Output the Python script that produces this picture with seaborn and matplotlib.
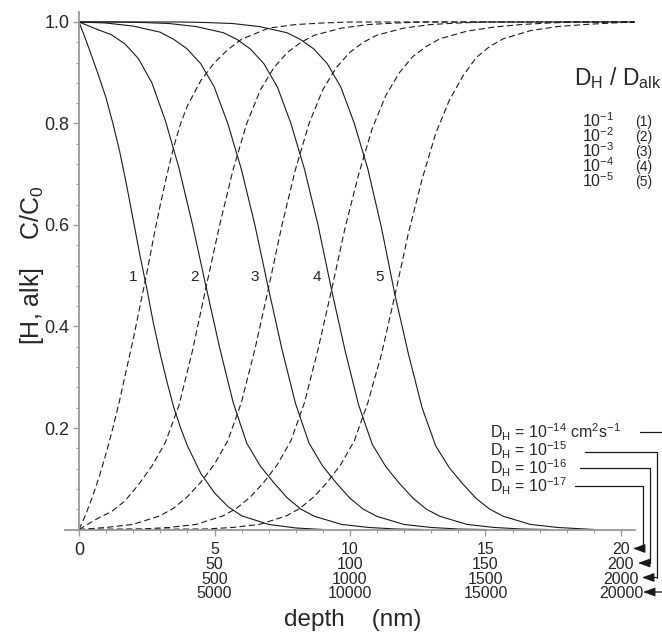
import pandas as pd
import seaborn as sns
import matplotlib.pyplot as plt
from matplotlib.lines import Line2D
from matplotlib.ticker import MultipleLocator

# concentration profiles: solid = H, dashed = alkali
h1_x = [0, 0.25, 0.5, 0.75, 1.0, 1.25, 1.5, 1.75, 2.0, 2.25, 2.5, 2.75, 3.0, 3.25, 3.5, 3.75, 4.0, 4.5, 5.0, 5.5, 6.0, 7.0, 8.0, 9.0]
h1_y = [1.0, 0.965, 0.928, 0.89, 0.85, 0.80, 0.745, 0.68, 0.61, 0.54, 0.475, 0.405, 0.345, 0.29, 0.24, 0.20, 0.165, 0.11, 0.072, 0.045, 0.027, 0.01, 0.003, 0.0]
alk1_x = [0, 0.25, 0.5, 0.75, 1.0, 1.25, 1.5, 1.75, 2.0, 2.25, 2.5, 2.75, 3.0, 3.25, 3.5, 3.75, 4.0, 4.5, 5.0, 5.5, 6.0, 7.0, 8.0, 9.0, 10.0, 20.5]
alk1_y = [0.0, 0.03, 0.065, 0.105, 0.15, 0.20, 0.255, 0.315, 0.375, 0.44, 0.505, 0.575, 0.64, 0.70, 0.755, 0.80, 0.835, 0.885, 0.92, 0.946, 0.966, 0.988, 0.995, 0.998, 1.0, 1.0]

h2_x = [0, 0.69, 1.19, 1.69, 2.19, 2.69, 3.19, 3.69, 4.19, 4.69, 5.19, 5.69, 6.19, 6.69, 7.19, 7.69, 8.19, 8.69, 9.69, 10.69, 11.69, 12.69]
h2_y = [1.0, 0.985, 0.975, 0.957, 0.928, 0.88, 0.805, 0.712, 0.60, 0.478, 0.358, 0.25, 0.17, 0.125, 0.092, 0.062, 0.04, 0.026, 0.01, 0.004, 0.001, 0.0]
alk2_x = [0, 0.69, 1.19, 1.69, 2.19, 2.69, 3.19, 3.69, 4.19, 4.69, 5.19, 5.69, 6.19, 6.69, 7.19, 7.69, 8.19, 8.69, 9.69, 10.69, 11.69, 12.69, 20.5]
alk2_y = [0.0, 0.022, 0.035, 0.056, 0.088, 0.125, 0.172, 0.245, 0.353, 0.478, 0.60, 0.71, 0.80, 0.866, 0.91, 0.94, 0.96, 0.974, 0.988, 0.995, 0.998, 1.0, 1.0]

h3_x = [0, 0.99, 1.99, 2.99, 3.49, 3.99, 4.49, 4.99, 5.49, 5.99, 6.49, 6.99, 7.49, 7.99, 8.49, 8.99, 9.49, 9.99, 10.49, 10.99, 11.99, 12.99, 13.99, 14.99]
h3_y = [1.0, 0.998, 0.992, 0.98, 0.966, 0.947, 0.918, 0.872, 0.80, 0.71, 0.60, 0.475, 0.355, 0.248, 0.17, 0.125, 0.092, 0.062, 0.04, 0.026, 0.01, 0.004, 0.001, 0.0]
alk3_x = [0, 0.99, 1.99, 2.99, 3.49, 3.99, 4.49, 4.99, 5.49, 5.99, 6.49, 6.99, 7.49, 7.99, 8.49, 8.99, 9.49, 9.99, 10.49, 10.99, 11.99, 12.99, 13.99, 14.99, 20.5]
alk3_y = [0.0, 0.004, 0.01, 0.027, 0.042, 0.064, 0.093, 0.128, 0.175, 0.25, 0.355, 0.475, 0.60, 0.71, 0.80, 0.866, 0.91, 0.94, 0.96, 0.974, 0.988, 0.995, 0.998, 1.0, 1.0]

h4_x = [0, 1.32, 2.32, 3.32, 4.32, 5.32, 5.82, 6.32, 6.82, 7.32, 7.82, 8.32, 8.82, 9.32, 9.82, 10.32, 10.82, 11.32, 11.82, 12.32, 12.82, 13.32, 14.32, 15.32, 16.32, 17.32]
h4_y = [1.0, 1.0, 0.999, 0.997, 0.991, 0.979, 0.966, 0.947, 0.918, 0.872, 0.80, 0.71, 0.60, 0.472, 0.352, 0.245, 0.168, 0.124, 0.091, 0.062, 0.04, 0.026, 0.01, 0.004, 0.001, 0.0]
alk4_x = [0, 2.32, 3.32, 4.32, 5.32, 5.82, 6.32, 6.82, 7.32, 7.82, 8.32, 8.82, 9.32, 9.82, 10.32, 10.82, 11.32, 11.82, 12.32, 12.82, 13.32, 14.32, 15.32, 16.32, 17.32, 18.32, 20.5]
alk4_y = [0.0, 0.001, 0.004, 0.01, 0.027, 0.042, 0.064, 0.093, 0.128, 0.175, 0.25, 0.355, 0.472, 0.595, 0.70, 0.79, 0.855, 0.90, 0.932, 0.952, 0.967, 0.982, 0.99, 0.995, 0.998, 1.0, 1.0]

h5_x = [0, 3.66, 4.66, 5.66, 6.66, 7.66, 8.16, 8.66, 9.16, 9.66, 10.16, 10.66, 11.16, 11.66, 12.16, 12.66, 13.16, 13.66, 14.16, 14.66, 15.16, 15.66, 16.66, 17.66, 18.66, 19.0]
h5_y = [1.0, 1.0, 0.999, 0.997, 0.991, 0.979, 0.966, 0.947, 0.918, 0.872, 0.80, 0.71, 0.595, 0.462, 0.345, 0.24, 0.165, 0.122, 0.09, 0.061, 0.04, 0.026, 0.01, 0.004, 0.001, 0.0]
alk5_x = [0, 4.66, 5.66, 6.66, 7.66, 8.16, 8.66, 9.16, 9.66, 10.16, 10.66, 11.16, 11.66, 12.16, 12.66, 13.16, 13.66, 14.16, 14.66, 15.16, 15.66, 16.66, 17.66, 18.66, 19.66, 20.5]
alk5_y = [0.0, 0.001, 0.004, 0.01, 0.027, 0.042, 0.064, 0.093, 0.128, 0.175, 0.25, 0.345, 0.462, 0.585, 0.69, 0.78, 0.845, 0.893, 0.93, 0.952, 0.967, 0.983, 0.991, 0.995, 0.998, 1.0]

ratio_labels = ['10$^{-1}$', '10$^{-2}$', '10$^{-3}$', '10$^{-4}$', '10$^{-5}$']
curve_ids = ['1', '2', '3', '4', '5']
curve_label_x = [2.0, 4.28, 6.49, 8.79, 11.11]
dh_labels = ['10$^{-14}$ cm$^{2}$s$^{-1}$', '10$^{-15}$', '10$^{-16}$', '10$^{-17}$']
x_ticks = [0, 5, 10, 15, 20]
x_ticklabels = ['0', '5\n50\n500\n5000', '10\n100\n1000\n10000',
                '15\n150\n1500\n15000', '20\n200\n2000\n20000']
y_ticks = [0.2, 0.4, 0.6, 0.8, 1.0]

rows = []
profiles = [(h1_x, h1_y, alk1_x, alk1_y), (h2_x, h2_y, alk2_x, alk2_y),
            (h3_x, h3_y, alk3_x, alk3_y), (h4_x, h4_y, alk4_x, alk4_y),
            (h5_x, h5_y, alk5_x, alk5_y)]
for i, (hx, hy, ax_, ay) in enumerate(profiles):
    for x, y in zip(hx, hy):
        rows.append({'depth': x, 'conc': y, 'kind': 'H', 'curve': f'H{i}'})
    for x, y in zip(ax_, ay):
        rows.append({'depth': x, 'conc': y, 'kind': 'alk', 'curve': f'A{i}'})
df = pd.DataFrame(rows)

sns.set_theme(style='ticks')
plt.rcParams['font.family'] = ['Liberation Sans', 'DejaVu Sans']
plt.rcParams['mathtext.fontset'] = 'custom'
plt.rcParams['mathtext.rm'] = 'Liberation Sans'
plt.rcParams['mathtext.it'] = 'Liberation Sans:italic'
plt.rcParams['mathtext.bf'] = 'Liberation Sans:bold'

W, H = 662, 633
fig = plt.figure(figsize=(W / 100, H / 100), dpi=100)
ax = fig.add_axes([0.0989, 0.1635, 0.8596, 0.8178])

sns.lineplot(data=df, x='depth', y='conc', units='curve', style='kind',
             estimator=None, dashes={'H': '', 'alk': (5.5, 3)}, color='#1a1a1a',
             linewidth=0.8, legend=False, ax=ax)

ax.set_xlim(-0.5, 20.5)
ax.set_ylim(0, 1.02)
ax.set_xlabel('')
ax.set_ylabel('')
ax.spines['left'].set_position(('data', 0))
ax.spines['top'].set_visible(False)
ax.spines['right'].set_visible(False)
for s in ['left', 'bottom']:
    ax.spines[s].set_color('#999999')
    ax.spines[s].set_linewidth(1.3)

ax.set_xticks(x_ticks)
xl = ax.set_xticklabels(x_ticklabels, fontsize=11.5)
for t in xl:
    t.set_linespacing(0.98)
xl[0].set_fontsize(13)
ax.set_yticks(y_ticks)
ax.set_yticklabels(['0.2', '0.4', '0.6', '0.8', '1.0'], fontsize=13)
ax.xaxis.set_minor_locator(MultipleLocator(1))
ax.yaxis.set_minor_locator(MultipleLocator(0.04))
ax.tick_params(which='major', direction='out', length=4, width=1, color='#999999', pad=3)
ax.tick_params(axis='x', which='major', pad=5)
ax.tick_params(which='minor', direction='out', length=2.5, width=0.8, color='#999999')

for lab, xx in zip(curve_ids, curve_label_x):
    ax.text(xx, 0.497, lab, ha='center', va='center', fontsize=11)


def fp(x, y):
    return x / W, 1 - y / H


fig.text(*fp(32, 265), '[H, alk]    C/C$_\\mathrm{0}$', rotation=90,
         ha='center', va='center', fontsize=18)
fig.text(*fp(353, 620), 'depth    (nm)', ha='center', va='center', fontsize=17.5)

# ratio legend, top right
fig.text(*fp(574, 78), 'D$_\\mathrm{H}$ / D$_\\mathrm{alk}$', ha='left', va='center', fontsize=16.5)
for i, lab in enumerate(ratio_labels):
    y = 121 + 15 * i
    fig.text(*fp(582, y), lab, ha='left', va='center', fontsize=11.5)
    fig.text(*fp(635, y + 1), f'({i + 1})', ha='left', va='center', fontsize=10)

# diffusion coefficient key, bottom right
for i, lab in enumerate(dh_labels):
    y = 432 + 18 * i
    fig.text(*fp(490, y), 'D$_\\mathrm{H}$ = ' + lab, ha='left', va='center', fontsize=11.5)

paths = [
    [(640, 432), (662, 432)],
    [(585, 451.7), (656.7, 451.7), (656.7, 577.5)],
    [(580, 468.3), (650, 468.3), (650, 563)],
    [(575, 486), (643.3, 486), (643.3, 548.5)],
]
for p in paths:
    xs = [q[0] / W for q in p]
    ys = [1 - q[1] / H for q in p]
    fig.add_artist(Line2D(xs, ys, transform=fig.transFigure, color='k', lw=0.9))

arrows = [((643.3, 548.5), (633, 548.5)), ((650, 563), (638, 563)),
          ((656.7, 577.5), (642, 577.5)), ((662, 592), (643, 592))]
for (x0, y0), (x1, y1) in arrows:
    ax.annotate('', xy=(x1, H - y1), xytext=(x0, H - y0), xycoords='figure pixels',
                textcoords='figure pixels',
                arrowprops=dict(arrowstyle='-|>,head_length=0.6,head_width=0.22',
                                color='k', lw=0.9, shrinkA=0, shrinkB=0))

fig.savefig('out.png', dpi=100)
